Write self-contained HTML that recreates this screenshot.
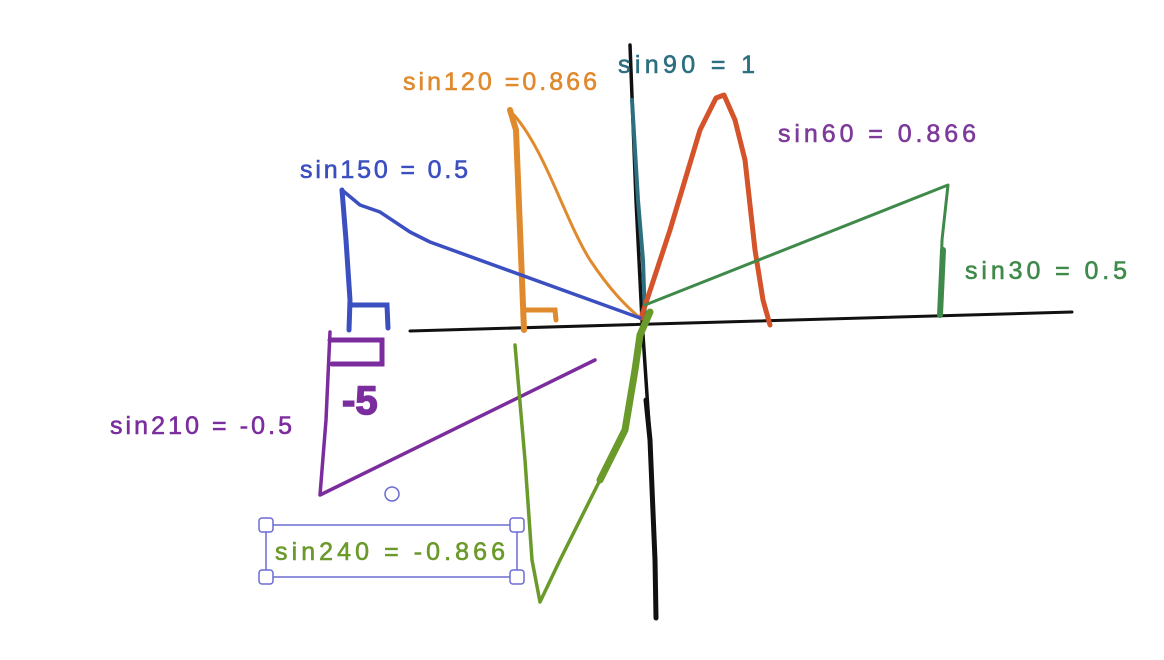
<!DOCTYPE html>
<html>
<head>
<meta charset="utf-8">
<style>
  html, body { margin: 0; padding: 0; background: #fff; }
  svg { display: block; }
  text { font-family: "Liberation Sans", "DejaVu Sans", sans-serif; font-size: 25px; }
</style>
</head>
<body>
<svg id="chart" width="1164" height="660" viewBox="0 0 1164 660">
  <rect width="1164" height="660" fill="#fff"/>

  <path d="M410 331 L1072 312" stroke="#111" stroke-width="3" fill="none" stroke-linecap="round"/>
  <path d="M630 45 L636 200 L642 320 L650 440 L655 560 L656 618" stroke="#111" stroke-width="3.5" fill="none" stroke-linecap="round"/>
  <path d="M646 400 L650 440 L655 560 L656 618" stroke="#111" stroke-width="5" fill="none" stroke-linecap="round"/>

  <path d="M632 100 L638 200 L643 260 L645 320" stroke="#2d6f80" stroke-width="4" fill="none" stroke-linecap="round"/>

  <path d="M641 318 L670 230 L700 130 L716 98 L724 95 L735 120 L745 160 L755 250 L763 300 L770 325" stroke="#d4532a" stroke-width="5" fill="none" stroke-linecap="round" stroke-linejoin="round"/>

  <path d="M645 305 L948 185 L942 240 L940 315" stroke="#3f8a4a" stroke-width="3" fill="none" stroke-linecap="round" stroke-linejoin="round"/>
  <path d="M943 250 L940 315" stroke="#3f8a4a" stroke-width="6" fill="none" stroke-linecap="round"/>

  <path d="M510 110 L516 130 L520 230 L524 330" stroke="#e08a2e" stroke-width="6" fill="none" stroke-linecap="round"/>
  <path d="M514 115 C545 150 565 220 590 260 C610 290 625 305 640 318" stroke="#e08a2e" stroke-width="3" fill="none" stroke-linecap="round"/>
  <path d="M525 310 L555 310 L556 320" stroke="#e08a2e" stroke-width="5" fill="none" stroke-linecap="round"/>

  <path d="M342 190 L360 205 L380 212 L410 232 L430 242 L640 318" stroke="#3b4fc0" stroke-width="3.5" fill="none" stroke-linecap="round" stroke-linejoin="round"/>
  <path d="M342 190 L346 240 L350 300 L349 330" stroke="#3b4fc0" stroke-width="5" fill="none" stroke-linecap="round"/>
  <path d="M350 305 L387 305 L388 328" stroke="#3b4fc0" stroke-width="5" fill="none" stroke-linecap="round"/>

  <path d="M330 332 L326 420 L320 495 L595 360" stroke="#7b2d9e" stroke-width="3.5" fill="none" stroke-linecap="round" stroke-linejoin="round"/>
  <path d="M330 340 L382 340 L382 364 L332 364" stroke="#7b2d9e" stroke-width="5" fill="none" stroke-linecap="round"/>
  <text x="342" y="414" fill="#7b2d9e" stroke="#7b2d9e" stroke-width="1.5" style="font-size:40px;font-weight:bold">-5</text>

  <path d="M515 345 L525 460 L532 560 L540 602 L560 560 L600 480 L625 430 L635 370 L640 335 L650 312" stroke="#6a9a2a" stroke-width="3.5" fill="none" stroke-linecap="round" stroke-linejoin="round"/>
  <path d="M600 480 L625 430 L635 370 L640 335 L650 312" stroke="#6a9a2a" stroke-width="7" fill="none" stroke-linecap="round"/>

  <circle cx="392" cy="494" r="7" fill="none" stroke="#6b6bd0" stroke-width="1.5"/>

  <rect x="266" y="525" width="251" height="52" fill="none" stroke="#6b6bd0" stroke-width="1.5"/>
  <g fill="#fff" stroke="#6b6bd0" stroke-width="1.5">
    <rect x="259" y="518" width="14" height="14" rx="3"/>
    <rect x="510" y="518" width="14" height="14" rx="3"/>
    <rect x="259" y="570" width="14" height="14" rx="3"/>
    <rect x="510" y="570" width="14" height="14" rx="3"/>
  </g>

  <g id="labels"></g>
</svg>
<script>
const labelTexts = ["sin90 = 1", "sin120 =0.866", "sin60 = 0.866", "sin150 = 0.5", "sin30 = 0.5", "sin210 = -0.5", "sin240 = -0.866"];
const labelNames = ["sin90-label", "sin120-label", "sin60-label", "sin150-label", "sin30-label", "sin210-label", "sin240-label"];
const labelColors = ["#2d6f80", "#e08a2e", "#7e3a9a", "#3b4fc0", "#3f8a4a", "#7b2d9e", "#6a9a2a"];
const labelX = [618, 403, 778, 300, 965, 110, 275];
const labelY = [73, 90, 142, 178, 279, 434, 560];
const labelW = [137, 194, 198, 168, 162, 182, 230];
const g = document.getElementById('labels');
labelTexts.forEach((t, i) => {
  const el = document.createElementNS('http://www.w3.org/2000/svg', 'text');
  el.setAttribute('x', labelX[i]);
  el.setAttribute('y', labelY[i]);
  el.setAttribute('fill', labelColors[i]);
  el.setAttribute('textLength', labelW[i]);
  el.setAttribute('lengthAdjust', 'spacing');
  el.setAttribute('stroke', labelColors[i]);
  el.setAttribute('stroke-width', '0.6');
  el.textContent = t;
  
  
  g.appendChild(el);
});
</script>
</body>
</html>
